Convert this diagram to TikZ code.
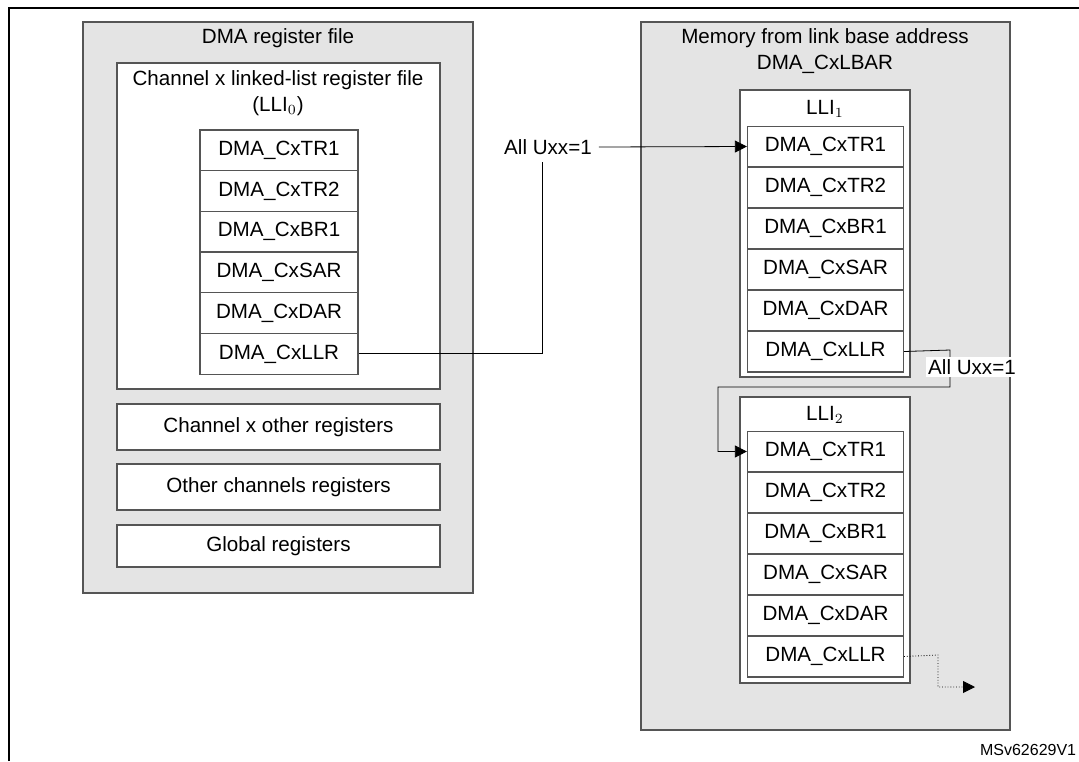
\documentclass[tikz,border=0pt]{standalone}
\usepackage{fontspec}
\setmainfont{Liberation Sans}
\usetikzlibrary{arrows.meta,positioning}
\definecolor{panelgray}{HTML}{E4E4E4}
\definecolor{edgegray}{HTML}{555555}
\begin{document}
\begin{tikzpicture}[x=0.5pt,y=-0.5pt,font=\fontsize{10.3}{12}\selectfont,
panel_style/.style={draw=edgegray,fill=panelgray,line width=0.6pt},
box_style/.style={draw=edgegray,fill=white,line width=0.6pt},
cell_style/.style={draw=edgegray,fill=white,line width=0.6pt,inner sep=0pt,minimum width=78pt,minimum height=20.4pt},
link_style/.style={draw=black,line width=0.4pt},
tip_style/.style={-{Triangle[length=6pt,width=6pt]}}]
\useasboundingbox (0,0) rectangle (1079,761);
% frame
\draw[line width=1.2pt] (9,761) -- (9,8) -- (1079,8);
% left side: DMA register file
\draw[panel_style] (83,22) rectangle (473,593);
\node (regfile) at (278,38) {DMA register file};
\draw[box_style] (117,63) rectangle (440,389);
\node (llifile) at (278,80) {Channel x linked-list register file};
\node (lli0) at (278,106) {(LLI$_0$)};
\foreach \r [count=\i] in {TR1,TR2,BR1,SAR,DAR,LLR}
  \node[cell_style,minimum width=79pt] (a\i) at (279,150.35+40.7*\i-40.7) {DMA\_Cx\r};
\node[box_style,minimum width=161.5pt,minimum height=23pt,inner sep=0pt] (chother) at (278.5,427) {Channel x other registers};
\node[box_style,minimum width=161.5pt,minimum height=23pt,inner sep=0pt] (otherch) at (278.5,487) {Other channels registers};
\node[box_style,minimum width=161.5pt,minimum height=21pt,inner sep=0pt] (globreg) at (278.5,546) {Global registers};
% right side: memory
\draw[panel_style] (641,22) rectangle (1010,730);
\node (memtitle) at (825,38) {Memory from link base address};
\node (lbar) at (825,64) {DMA\_CxLBAR};
\draw[box_style] (740,90) rectangle (910,377);
\node (lli1) at (825,109) {LLI$_1$};
\foreach \r [count=\i] in {TR1,TR2,BR1,SAR,DAR,LLR}
  \node[cell_style] (b\i) at (825.5,146.5+41*\i-41) {DMA\_Cx\r};
\draw[box_style] (740,397) rectangle (910,683);
\node (lli2) at (825,415) {LLI$_2$};
\foreach \r [count=\i] in {TR1,TR2,BR1,SAR,DAR,LLR}
  \node[cell_style] (c\i) at (825.5,451.5+41*\i-41) {DMA\_Cx\r};
% links
\node (uxxa) at (548,147) {All Uxx=1};
\draw[link_style] (a6.east) -| (uxxa.south -| 542,0);
\draw[link_style,tip_style] (uxxa.east) -- (b1.west);
\draw[link_style,tip_style] (b6.east) -- (950,350) -- (950,387) -- (718,387) |- (c1.west);
\node[fill=white,inner sep=1pt] (uxxb) at (972,367) {All Uxx=1};
\coordinate (next) at (975,687);
\draw[link_style,densely dotted,tip_style] (c6.east) -- (938,655) |- (next);
\node[anchor=west,font=\fontsize{8}{10}\selectfont] (docid) at (973,750) {MSv62629V1};
\end{tikzpicture}
\end{document}
